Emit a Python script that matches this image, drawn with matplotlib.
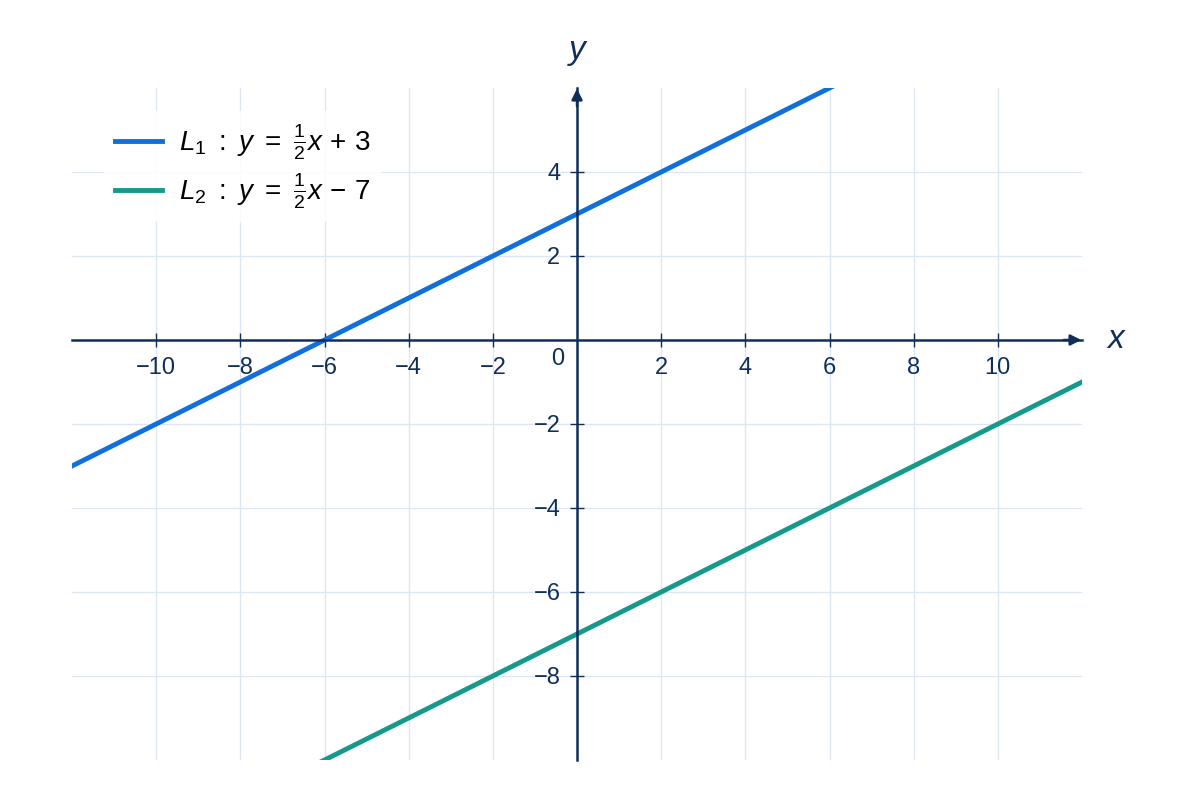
import matplotlib.pyplot as plt

plt.rcParams['font.family'] = ['Liberation Sans', 'DejaVu Sans']
plt.rcParams['mathtext.fontset'] = 'custom'
plt.rcParams['mathtext.rm'] = 'Liberation Sans'
plt.rcParams['mathtext.it'] = 'Liberation Sans:italic'

navy = '#0f2f5a'
grid_col = '#dde7f3'

# points (two per line)
x_ends = [-12, 12]
l1_y = [-3, 9]
l2_y = [-13, -1]
labels = [r'$L_1\ :\ y\ =\ \frac{1}{2}x\,+\,3$', r'$L_2\ :\ y\ =\ \frac{1}{2}x\,-\,7$']
colors = ['#0f6fdb', '#14998a']

xticks = [-10, -8, -6, -4, -2, 2, 4, 6, 8, 10]
yticks = [-8, -6, -4, -2, 2, 4]

fig = plt.figure(figsize=(12, 8), dpi=100)
ax = fig.add_axes([0.06, 0.05, 0.8417, 0.84])
ax.set_xlim(-12, 12)
ax.set_ylim(-10, 6)

for v in xticks:
    ax.axvline(v, color=grid_col, lw=1, zorder=0)
for v in yticks:
    ax.axhline(v, color=grid_col, lw=1, zorder=0)

ax.plot(x_ends, l1_y, color=colors[0], lw=3.5, label=labels[0], zorder=3)
ax.plot(x_ends, l2_y, color=colors[1], lw=3.5, label=labels[1], zorder=3)

for s in ['top', 'right']:
    ax.spines[s].set_visible(False)
ax.spines['left'].set_position(('data', 0))
ax.spines['bottom'].set_position(('data', 0))
for s in ['left', 'bottom']:
    ax.spines[s].set_color(navy)
    ax.spines[s].set_linewidth(1.8)
    ax.spines[s].set_zorder(4)

ax.set_xticks(xticks)
ax.set_yticks(yticks)
ax.set_xticklabels(['\u2212' + str(-t) if t < 0 else str(t) for t in xticks])
ax.set_yticklabels(['\u2212' + str(-t) if t < 0 else str(t) for t in yticks])
ax.tick_params(direction='inout', length=10, width=1, colors=navy,
               labelsize=17, pad=7)
ax.text(-0.3, -0.2, '0', ha='right', va='top', fontsize=17, color=navy)

# arrow heads
ax.annotate('', xy=(12.05, 0), xytext=(11.5, 0),
            arrowprops=dict(arrowstyle='-|>', color=navy, lw=1.8, mutation_scale=16),
            annotation_clip=False)
ax.annotate('', xy=(0, 6.05), xytext=(0, 5.5),
            arrowprops=dict(arrowstyle='-|>', color=navy, lw=1.8, mutation_scale=16),
            annotation_clip=False)
ax.text(12.8, 0, 'x', style='italic', fontsize=24, color=navy, ha='center', va='center')
ax.text(0, 6.9, 'y', style='italic', fontsize=24, color=navy, ha='center', va='center')

leg = ax.legend(loc='upper left', fontsize=20, frameon=True, framealpha=0.85,
                edgecolor='none', handlelength=1.7, handletextpad=0.6,
                labelspacing=0.35, borderaxespad=0.6,
                bbox_to_anchor=(0.015, 0.99))
leg.set_zorder(5)

fig.savefig('out.png', dpi=100)
